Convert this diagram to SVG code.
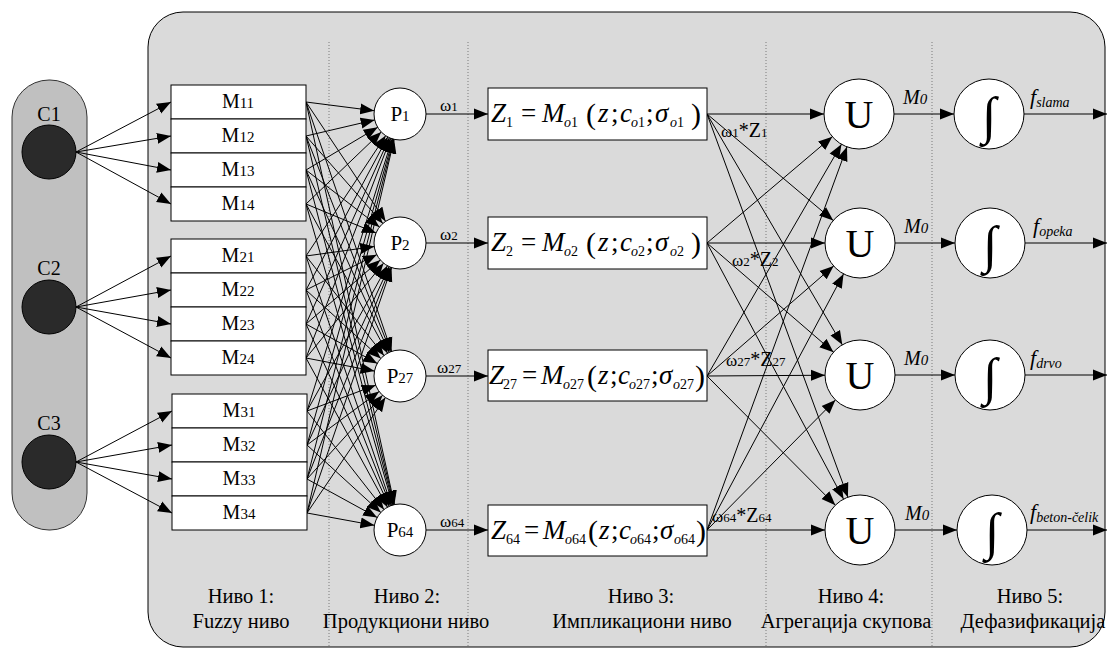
<svg xmlns="http://www.w3.org/2000/svg" width="1108" height="650" viewBox="0 0 1108 650">
<defs>
<style>
.t{font-family:"Liberation Serif","DejaVu Serif",serif;fill:#000}
.i{font-style:italic}
.ln{stroke:#000;stroke-width:1;fill:none}
.dot{stroke:#7a7a7a;stroke-width:1;stroke-dasharray:1 2}
.box{fill:#fff;stroke:#000;stroke-width:1}
.nd{fill:#fff;stroke:#000;stroke-width:1}
.cin{fill:#2a2a2a;stroke:#000;stroke-width:1}
.a{marker-end:url(#ah)}
.ap{marker-end:url(#ahp)}
.au{marker-end:url(#ahu)}
</style>
<marker id="ah" markerUnits="userSpaceOnUse" viewBox="0 0 14 12" markerWidth="14" markerHeight="12" refX="14" refY="6" orient="auto"><path d="M0,0.5 L14,6 L0,11.5 z" fill="#000"/></marker>
<marker id="ahp" markerUnits="userSpaceOnUse" viewBox="0 0 40 12" markerWidth="40" markerHeight="12" refX="40" refY="6" orient="auto"><path d="M0,0.5 L14,6 L0,11.5 z" fill="#000"/></marker>
<marker id="ahu" markerUnits="userSpaceOnUse" viewBox="0 0 49 12" markerWidth="49" markerHeight="12" refX="49" refY="6" orient="auto"><path d="M0,0.5 L14,6 L0,11.5 z" fill="#000"/></marker>
</defs>

<g id="background">
<rect x="148" y="12" width="957" height="635" rx="35" ry="35" fill="#dadada" stroke="#000" stroke-width="1"/>
<rect x="12" y="80" width="75" height="450" rx="37" ry="37" fill="#c0c0c0" stroke="#333" stroke-width="1"/>
<line class="dot" x1="329" y1="42" x2="329" y2="647"/>
<line class="dot" x1="468" y1="42" x2="468" y2="647"/>
<line class="dot" x1="766" y1="42" x2="766" y2="647"/>
<line class="dot" x1="932" y1="42" x2="932" y2="647"/>
</g>

<g id="connectors">
<line class="ln a" x1="76" y1="152" x2="171" y2="102"/>
<line class="ln a" x1="76" y1="152" x2="171" y2="136"/>
<line class="ln a" x1="76" y1="152" x2="171" y2="170"/>
<line class="ln a" x1="76" y1="152" x2="171" y2="204"/>
<line class="ln a" x1="76" y1="307" x2="171" y2="256"/>
<line class="ln a" x1="76" y1="307" x2="171" y2="290"/>
<line class="ln a" x1="76" y1="307" x2="171" y2="324"/>
<line class="ln a" x1="76" y1="307" x2="171" y2="358"/>
<line class="ln a" x1="76" y1="462" x2="172" y2="411"/>
<line class="ln a" x1="76" y1="462" x2="172" y2="445"/>
<line class="ln a" x1="76" y1="462" x2="172" y2="479"/>
<line class="ln a" x1="76" y1="462" x2="172" y2="513"/>
<line class="ln ap" x1="306" y1="102" x2="400" y2="114"/>
<line class="ln ap" x1="306" y1="102" x2="400" y2="243"/>
<line class="ln ap" x1="306" y1="102" x2="400" y2="376"/>
<line class="ln ap" x1="306" y1="102" x2="400" y2="530"/>
<line class="ln ap" x1="306" y1="136" x2="400" y2="114"/>
<line class="ln ap" x1="306" y1="136" x2="400" y2="243"/>
<line class="ln ap" x1="306" y1="136" x2="400" y2="376"/>
<line class="ln ap" x1="306" y1="136" x2="400" y2="530"/>
<line class="ln ap" x1="306" y1="170" x2="400" y2="114"/>
<line class="ln ap" x1="306" y1="170" x2="400" y2="243"/>
<line class="ln ap" x1="306" y1="170" x2="400" y2="376"/>
<line class="ln ap" x1="306" y1="170" x2="400" y2="530"/>
<line class="ln ap" x1="306" y1="204" x2="400" y2="114"/>
<line class="ln ap" x1="306" y1="204" x2="400" y2="243"/>
<line class="ln ap" x1="306" y1="204" x2="400" y2="376"/>
<line class="ln ap" x1="306" y1="204" x2="400" y2="530"/>
<line class="ln ap" x1="306" y1="256" x2="400" y2="114"/>
<line class="ln ap" x1="306" y1="256" x2="400" y2="243"/>
<line class="ln ap" x1="306" y1="256" x2="400" y2="376"/>
<line class="ln ap" x1="306" y1="256" x2="400" y2="530"/>
<line class="ln ap" x1="306" y1="290" x2="400" y2="114"/>
<line class="ln ap" x1="306" y1="290" x2="400" y2="243"/>
<line class="ln ap" x1="306" y1="290" x2="400" y2="376"/>
<line class="ln ap" x1="306" y1="290" x2="400" y2="530"/>
<line class="ln ap" x1="306" y1="324" x2="400" y2="114"/>
<line class="ln ap" x1="306" y1="324" x2="400" y2="243"/>
<line class="ln ap" x1="306" y1="324" x2="400" y2="376"/>
<line class="ln ap" x1="306" y1="324" x2="400" y2="530"/>
<line class="ln ap" x1="306" y1="358" x2="400" y2="114"/>
<line class="ln ap" x1="306" y1="358" x2="400" y2="243"/>
<line class="ln ap" x1="306" y1="358" x2="400" y2="376"/>
<line class="ln ap" x1="306" y1="358" x2="400" y2="530"/>
<line class="ln ap" x1="307" y1="411" x2="400" y2="114"/>
<line class="ln ap" x1="307" y1="411" x2="400" y2="243"/>
<line class="ln ap" x1="307" y1="411" x2="400" y2="376"/>
<line class="ln ap" x1="307" y1="411" x2="400" y2="530"/>
<line class="ln ap" x1="307" y1="445" x2="400" y2="114"/>
<line class="ln ap" x1="307" y1="445" x2="400" y2="243"/>
<line class="ln ap" x1="307" y1="445" x2="400" y2="376"/>
<line class="ln ap" x1="307" y1="445" x2="400" y2="530"/>
<line class="ln ap" x1="307" y1="479" x2="400" y2="114"/>
<line class="ln ap" x1="307" y1="479" x2="400" y2="243"/>
<line class="ln ap" x1="307" y1="479" x2="400" y2="376"/>
<line class="ln ap" x1="307" y1="479" x2="400" y2="530"/>
<line class="ln ap" x1="307" y1="513" x2="400" y2="114"/>
<line class="ln ap" x1="307" y1="513" x2="400" y2="243"/>
<line class="ln ap" x1="307" y1="513" x2="400" y2="376"/>
<line class="ln ap" x1="307" y1="513" x2="400" y2="530"/>
<line class="ln a" x1="426" y1="114" x2="488" y2="114"/>
<line class="ln a" x1="426" y1="243" x2="488" y2="243"/>
<line class="ln a" x1="426" y1="376" x2="488" y2="376"/>
<line class="ln a" x1="426" y1="530" x2="488" y2="530"/>
<line class="ln au" x1="707" y1="114" x2="859" y2="114"/>
<line class="ln au" x1="707" y1="114" x2="860" y2="243"/>
<line class="ln au" x1="707" y1="114" x2="860" y2="375"/>
<line class="ln au" x1="707" y1="114" x2="860" y2="530"/>
<line class="ln au" x1="707" y1="243" x2="859" y2="114"/>
<line class="ln au" x1="707" y1="243" x2="860" y2="243"/>
<line class="ln au" x1="707" y1="243" x2="860" y2="375"/>
<line class="ln au" x1="707" y1="243" x2="860" y2="530"/>
<line class="ln au" x1="707" y1="376" x2="859" y2="114"/>
<line class="ln au" x1="707" y1="376" x2="860" y2="243"/>
<line class="ln au" x1="707" y1="376" x2="860" y2="375"/>
<line class="ln au" x1="707" y1="376" x2="860" y2="530"/>
<line class="ln au" x1="707" y1="530" x2="859" y2="114"/>
<line class="ln au" x1="707" y1="530" x2="860" y2="243"/>
<line class="ln au" x1="707" y1="530" x2="860" y2="375"/>
<line class="ln au" x1="707" y1="530" x2="860" y2="530"/>
<line class="ln a" x1="894" y1="114" x2="954" y2="114"/>
<line class="ln a" x1="895" y1="243" x2="955" y2="243"/>
<line class="ln a" x1="895" y1="375" x2="955" y2="375"/>
<line class="ln a" x1="895" y1="530" x2="957" y2="530"/>
<line class="ln a" x1="1024" y1="114" x2="1107" y2="114"/>
<line class="ln a" x1="1025" y1="243" x2="1107" y2="243"/>
<line class="ln a" x1="1025" y1="375" x2="1107" y2="375"/>
<line class="ln a" x1="1027" y1="530" x2="1107" y2="530"/>
</g>

<g id="labels-connectors" class="t">
<text x="440" y="111" font-size="17">ω<tspan font-size="13">1</tspan></text>
<text x="440" y="240" font-size="17">ω<tspan font-size="13">2</tspan></text>
<text x="437" y="373" font-size="17">ω<tspan font-size="13">27</tspan></text>
<text x="440" y="527" font-size="17">ω<tspan font-size="13">64</tspan></text>
<text x="721" y="137" font-size="17">ω<tspan font-size="13">1</tspan><tspan font-size="20">*Z</tspan><tspan font-size="13">1</tspan></text>
<text x="732" y="266" font-size="17">ω<tspan font-size="13">2</tspan><tspan font-size="20">*Z</tspan><tspan font-size="13">2</tspan></text>
<text x="726" y="366" font-size="17">ω<tspan font-size="13">27</tspan><tspan font-size="20">*Z</tspan><tspan font-size="13">27</tspan></text>
<text x="712" y="522" font-size="17">ω<tspan font-size="13">64</tspan><tspan font-size="20">*Z</tspan><tspan font-size="13">64</tspan></text>
<text x="903" y="104" font-size="20" class="i">M<tspan font-size="15">0</tspan></text>
<text x="904" y="233" font-size="20" class="i">M<tspan font-size="15">0</tspan></text>
<text x="904" y="365" font-size="20" class="i">M<tspan font-size="15">0</tspan></text>
<text x="905" y="520" font-size="20" class="i">M<tspan font-size="15">0</tspan></text>
<text x="1030" y="104" font-size="22" class="i">f<tspan font-size="14" dy="3">slama</tspan></text>
<text x="1033" y="233" font-size="22" class="i">f<tspan font-size="14" dy="3">opeka</tspan></text>
<text x="1030" y="365" font-size="22" class="i">f<tspan font-size="14" dy="3">drvo</tspan></text>
<text x="1030" y="519" font-size="22" class="i">f<tspan font-size="14" dy="3">beton-čelik</tspan></text>
</g>

<g id="node-C1"><text class="t" x="49" y="121" font-size="20" text-anchor="middle">C1</text><circle class="cin" cx="49" cy="152" r="27"/></g>
<g id="node-C2"><text class="t" x="49" y="275" font-size="20" text-anchor="middle">C2</text><circle class="cin" cx="49" cy="307" r="27"/></g>
<g id="node-C3"><text class="t" x="49" y="430" font-size="20" text-anchor="middle">C3</text><circle class="cin" cx="49" cy="462" r="27"/></g>

<g id="node-M1" class="t">
<rect class="box" x="171" y="85" width="135" height="34"/><rect class="box" x="171" y="119" width="135" height="34"/><rect class="box" x="171" y="153" width="135" height="34"/><rect class="box" x="171" y="187" width="135" height="34"/>
<text x="238" y="108" font-size="20" text-anchor="middle">M<tspan font-size="15">11</tspan></text>
<text x="238" y="142" font-size="20" text-anchor="middle">M<tspan font-size="15">12</tspan></text>
<text x="238" y="176" font-size="20" text-anchor="middle">M<tspan font-size="15">13</tspan></text>
<text x="238" y="210" font-size="20" text-anchor="middle">M<tspan font-size="15">14</tspan></text>
</g>
<g id="node-M2" class="t">
<rect class="box" x="171" y="239" width="135" height="34"/><rect class="box" x="171" y="273" width="135" height="34"/><rect class="box" x="171" y="307" width="135" height="34"/><rect class="box" x="171" y="341" width="135" height="34"/>
<text x="238" y="262" font-size="20" text-anchor="middle">M<tspan font-size="15">21</tspan></text>
<text x="238" y="296" font-size="20" text-anchor="middle">M<tspan font-size="15">22</tspan></text>
<text x="238" y="330" font-size="20" text-anchor="middle">M<tspan font-size="15">23</tspan></text>
<text x="238" y="364" font-size="20" text-anchor="middle">M<tspan font-size="15">24</tspan></text>
</g>
<g id="node-M3" class="t">
<rect class="box" x="172" y="394" width="135" height="34"/><rect class="box" x="172" y="428" width="135" height="34"/><rect class="box" x="172" y="462" width="135" height="34"/><rect class="box" x="172" y="496" width="135" height="34"/>
<text x="239" y="417" font-size="20" text-anchor="middle">M<tspan font-size="15">31</tspan></text>
<text x="239" y="451" font-size="20" text-anchor="middle">M<tspan font-size="15">32</tspan></text>
<text x="239" y="485" font-size="20" text-anchor="middle">M<tspan font-size="15">33</tspan></text>
<text x="239" y="519" font-size="20" text-anchor="middle">M<tspan font-size="15">34</tspan></text>
</g>

<g id="node-P1"><circle class="nd" cx="400" cy="114" r="26"/><text class="t" x="400" y="121" font-size="21" text-anchor="middle">P<tspan font-size="15">1</tspan></text></g>
<g id="node-P2"><circle class="nd" cx="400" cy="243" r="26"/><text class="t" x="400" y="250" font-size="21" text-anchor="middle">P<tspan font-size="15">2</tspan></text></g>
<g id="node-P27"><circle class="nd" cx="400" cy="376" r="26"/><text class="t" x="400" y="383" font-size="21" text-anchor="middle">P<tspan font-size="15">27</tspan></text></g>
<g id="node-P64"><circle class="nd" cx="400" cy="530" r="26"/><text class="t" x="400" y="537" font-size="21" text-anchor="middle">P<tspan font-size="15">64</tspan></text></g>

<g id="node-Z1">
<rect class="box" x="488" y="88" width="219" height="52"/>
<text class="t" y="122" font-size="27"><tspan x="491" class="i">Z</tspan><tspan x="506" y="127" font-size="14">1</tspan><tspan x="521" y="122">=</tspan><tspan x="542" class="i">M</tspan><tspan x="564" y="127" font-size="14"><tspan class="i">o</tspan>1</tspan><tspan x="586" y="124" font-size="30">(</tspan><tspan x="598" y="122" class="i">z</tspan><tspan x="611">;</tspan><tspan x="620" class="i">c</tspan><tspan x="631" y="127" font-size="14"><tspan class="i">o</tspan>1</tspan><tspan x="646" y="122">;</tspan><tspan x="655" class="i">σ</tspan><tspan x="670" y="127" font-size="14"><tspan class="i">o</tspan>1</tspan><tspan x="691" y="124" font-size="30">)</tspan></text>
</g>
<g id="node-Z2">
<rect class="box" x="488" y="217" width="219" height="52"/>
<text class="t" y="251" font-size="27"><tspan x="491" class="i">Z</tspan><tspan x="506" y="256" font-size="14">2</tspan><tspan x="521" y="251">=</tspan><tspan x="542" class="i">M</tspan><tspan x="564" y="256" font-size="14"><tspan class="i">o</tspan>2</tspan><tspan x="586" y="253" font-size="30">(</tspan><tspan x="598" y="251" class="i">z</tspan><tspan x="611">;</tspan><tspan x="620" class="i">c</tspan><tspan x="631" y="256" font-size="14"><tspan class="i">o</tspan>2</tspan><tspan x="646" y="251">;</tspan><tspan x="655" class="i">σ</tspan><tspan x="670" y="256" font-size="14"><tspan class="i">o</tspan>2</tspan><tspan x="691" y="253" font-size="30">)</tspan></text>
</g>
<g id="node-Z27">
<rect class="box" x="488" y="350" width="219" height="51"/>
<text class="t" y="384" font-size="27"><tspan x="489" class="i">Z</tspan><tspan x="503" y="389" font-size="14">27</tspan><tspan x="522" y="384">=</tspan><tspan x="541" class="i">M</tspan><tspan x="563" y="389" font-size="14"><tspan class="i">o</tspan>27</tspan><tspan x="587" y="386" font-size="30">(</tspan><tspan x="598" y="384" class="i">z</tspan><tspan x="610">;</tspan><tspan x="618" class="i">c</tspan><tspan x="629" y="389" font-size="14"><tspan class="i">o</tspan>27</tspan><tspan x="651" y="384">;</tspan><tspan x="659" class="i">σ</tspan><tspan x="673" y="389" font-size="14"><tspan class="i">o</tspan>27</tspan><tspan x="695" y="386" font-size="30">)</tspan></text>
</g>
<g id="node-Z64">
<rect class="box" x="488" y="505" width="219" height="51"/>
<text class="t" y="539" font-size="27"><tspan x="491" class="i">Z</tspan><tspan x="506" y="544" font-size="14">64</tspan><tspan x="524" y="539">=</tspan><tspan x="543" class="i">M</tspan><tspan x="565" y="544" font-size="14"><tspan class="i">o</tspan>64</tspan><tspan x="588" y="541" font-size="30">(</tspan><tspan x="599" y="539" class="i">z</tspan><tspan x="611">;</tspan><tspan x="619" class="i">c</tspan><tspan x="630" y="544" font-size="14"><tspan class="i">o</tspan>64</tspan><tspan x="652" y="539">;</tspan><tspan x="660" class="i">σ</tspan><tspan x="674" y="544" font-size="14"><tspan class="i">o</tspan>64</tspan><tspan x="696" y="541" font-size="30">)</tspan></text>
</g>

<g id="node-U1"><circle class="nd" cx="859" cy="114" r="35"/><text class="t" x="859" y="128" font-size="40" text-anchor="middle">U</text></g>
<g id="node-U2"><circle class="nd" cx="860" cy="243" r="35"/><text class="t" x="860" y="257" font-size="40" text-anchor="middle">U</text></g>
<g id="node-U27"><circle class="nd" cx="860" cy="375" r="35"/><text class="t" x="860" y="389" font-size="40" text-anchor="middle">U</text></g>
<g id="node-U64"><circle class="nd" cx="860" cy="530" r="35"/><text class="t" x="860" y="544" font-size="40" text-anchor="middle">U</text></g>

<g id="node-I1"><circle class="nd" cx="989" cy="114" r="35"/><text class="t i" x="989" y="133" font-size="52" text-anchor="middle">∫</text></g>
<g id="node-I2"><circle class="nd" cx="990" cy="243" r="35"/><text class="t i" x="990" y="262" font-size="52" text-anchor="middle">∫</text></g>
<g id="node-I27"><circle class="nd" cx="990" cy="375" r="35"/><text class="t i" x="990" y="394" font-size="52" text-anchor="middle">∫</text></g>
<g id="node-I64"><circle class="nd" cx="992" cy="530" r="35"/><text class="t i" x="992" y="549" font-size="52" text-anchor="middle">∫</text></g>

<g id="level-labels" class="t" font-size="20.5" text-anchor="middle">
<text x="241" y="603">Ниво 1:</text><text x="241" y="628">Fuzzy ниво</text>
<text x="407" y="603">Ниво 2:</text><text x="406" y="628">Продукциони ниво</text>
<text x="641" y="603">Ниво 3:</text><text x="642" y="628">Импликациони ниво</text>
<text x="851" y="603">Ниво 4:</text><text x="846" y="628">Агрегација скупова</text>
<text x="1030" y="603">Ниво 5:</text><text x="1033" y="628">Дефазификација</text>
</g>
</svg>
